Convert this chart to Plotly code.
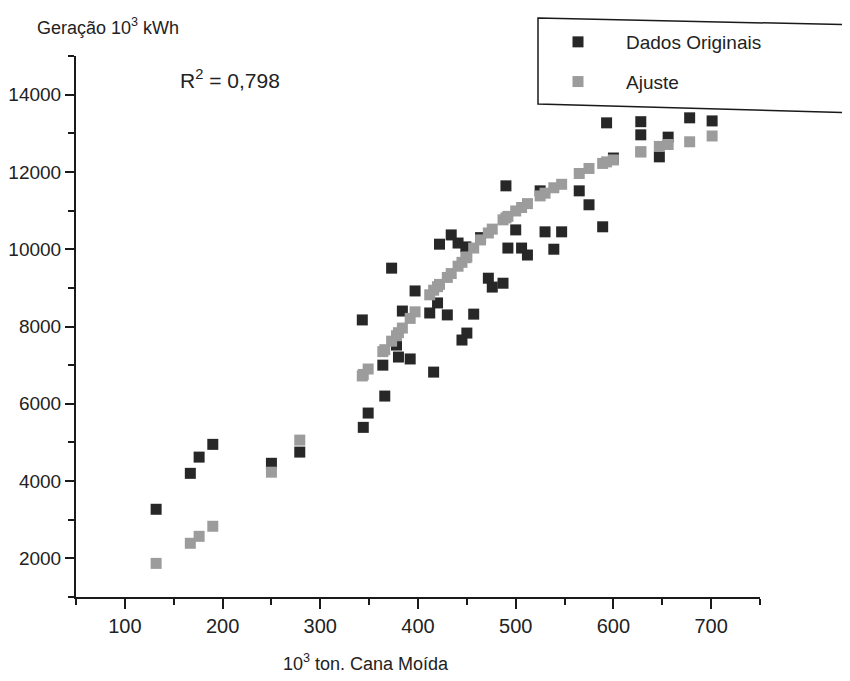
import plotly.graph_objects as go

# --- data ---
cana_moida = [132, 167, 176, 190, 250, 279, 343, 344, 349, 364, 366, 373, 378, 380,
              384, 392, 397, 412, 416, 420, 422, 430, 434, 441, 445, 449, 450, 457,
              464, 472, 476, 487, 490, 492, 500, 506, 512, 525, 530, 539, 547, 565,
              575, 589, 593, 600, 628, 628, 647, 656, 678, 701]
geracao_original = [3270, 4200, 4620, 4950, 4460, 4750, 8170, 5390, 5760, 7000, 6200,
                    9510, 7520, 7210, 8400, 7160, 8920, 8350, 6820, 8610, 10130, 8300,
                    10370, 10160, 7650, 10060, 7830, 8320, 10300, 9250, 9020, 9120,
                    11640, 10030, 10500, 10030, 9850, 11510, 10450, 10000, 10450,
                    11510, 11150, 10580, 13270, 12360, 13300, 12960, 12390, 12900,
                    13400, 13320]
geracao_ajuste = [1870, 2390, 2570, 2830, 4230, 5060, 6720, 6760, 6900, 7350, 7400,
                  7620, 7760, 7840, 7960, 8210, 8380, 8820, 8940, 9030, 9090, 9270,
                  9370, 9560, 9660, 9780, 9800, 10030, 10240, 10420, 10520, 10760,
                  10810, 10850, 10990, 11080, 11180, 11380, 11450, 11590, 11680,
                  11960, 12090, 12220, 12260, 12310, 12520, 12520, 12660, 12710,
                  12780, 12930]

y_ticks = [2000, 4000, 6000, 8000, 10000, 12000, 14000]
y_tick_labels = ["2000", "4000", "6000", "8000", "10000", "12000", "14000"]
x_ticks = [100, 200, 300, 400, 500, 600, 700]
x_tick_labels = ["100", "200", "300", "400", "500", "600", "700"]

W, H = 850, 681
OFF = 8  # page body margin in the screenshot
L, R, T, B = 76 - OFF, 98, 56 - OFF, 92
PW, PH = W - L - R, H - T - B


def px(xp):
    """screenshot x pixel -> paper coordinate"""
    return (xp - OFF - L) / PW


def py(yp):
    """screenshot y pixel -> paper coordinate"""
    return 1 - (yp - OFF - T) / PH


FONT = "Liberation Sans, Arial, sans-serif"
TXT = "#222222"
AX = "#1a1a1a"

fig = go.Figure()
fig.add_trace(go.Scatter(
    x=cana_moida, y=geracao_original, mode="markers", name="Dados Originais",
    legendgroup="a", legendrank=1,
    marker=dict(symbol="square", size=11, color="#272727", line=dict(width=0)),
))
fig.add_trace(go.Scatter(
    x=cana_moida, y=geracao_ajuste, mode="markers", name="Ajuste",
    legendgroup="b", legendrank=2,
    marker=dict(symbol="square", size=11, color="#9c9c9c", line=dict(width=0)),
))

axis_common = dict(
    showline=True, linecolor=AX, linewidth=2, showgrid=False, zeroline=False,
    ticks="outside", tickwidth=2, tickcolor=AX,
)

fig.update_xaxes(range=[50, 750], tickvals=x_ticks, ticktext=x_tick_labels, ticklen=10,
                 tickfont=dict(family=FONT, size=20, color=TXT),
                 minor=dict(ticks="outside", ticklen=6, tickwidth=2, dtick=50, tick0=50,
                            tickcolor=AX),
                 **axis_common)
fig.update_yaxes(range=[1000, 15000], tickvals=y_ticks, ticktext=y_tick_labels, ticklen=9,
                 tickfont=dict(family=FONT, size=19, color=TXT),
                 minor=dict(ticks="outside", ticklen=6, tickwidth=2, dtick=1000, tick0=1000,
                            tickcolor=AX),
                 **axis_common)

# legend box (slightly tilted, as in the scan)
fig.add_shape(type="path", xref="paper", yref="paper",
              path=f"M {px(538)},{py(18)} L {px(860)},{py(25)} L {px(860)},{py(113)} L {px(538)},{py(104)} Z",
              line=dict(color=AX, width=1.5), fillcolor="rgba(0,0,0,0)")

fig.add_annotation(xref="paper", yref="paper", x=px(35), y=py(27), xanchor="left",
                   yanchor="middle", showarrow=False,
                   text="Geração 10<sup>3</sup> kWh",
                   font=dict(family=FONT, size=18, color=TXT))
fig.add_annotation(xref="paper", yref="paper", x=px(366), y=py(662), xanchor="center",
                   yanchor="middle", showarrow=False,
                   text="10<sup>3</sup> ton. Cana Moída",
                   font=dict(family=FONT, size=18, color=TXT))
fig.add_annotation(xref="paper", yref="paper", x=px(178), y=py(79), xanchor="left",
                   yanchor="middle", showarrow=False,
                   text="R<sup>2</sup> = 0,798",
                   font=dict(family=FONT, size=21, color=TXT))

fig.update_layout(
    width=W, height=H, margin=dict(l=L, r=R, t=T, b=B, autoexpand=False),
    paper_bgcolor="white", plot_bgcolor="white",
    showlegend=True,
    legend=dict(x=px(530), y=py(23), xanchor="left", yanchor="top",
                bgcolor="rgba(0,0,0,0)", borderwidth=0,
                traceorder="grouped", tracegroupgap=12, itemwidth=86,
                font=dict(family=FONT, size=19, color=TXT)),
    font=dict(family=FONT, color=TXT),
)

fig.write_html("out.html")
